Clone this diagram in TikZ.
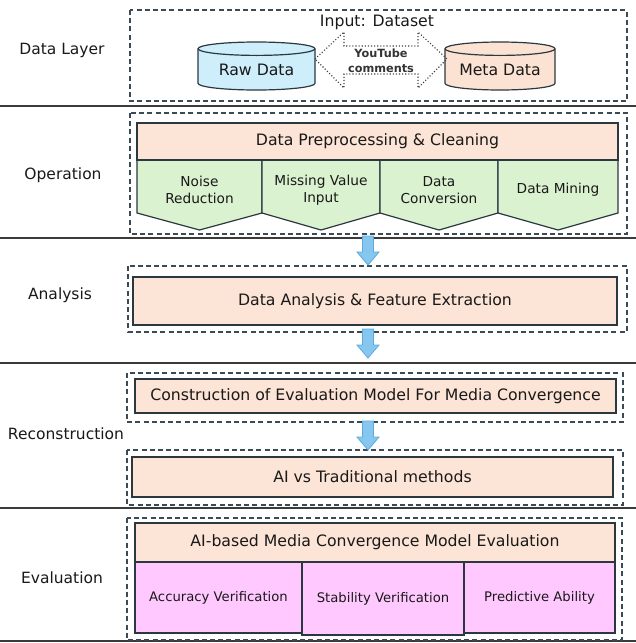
\documentclass[tikz,border=0pt]{standalone}
\usepackage{fontspec}
\setmainfont{DejaVu Sans}
\usetikzlibrary{calc}
\definecolor{peach}{HTML}{FCE4D6}
\definecolor{greenf}{HTML}{DAF2D0}
\definecolor{pinkf}{HTML}{FFC9FF}
\definecolor{rawf}{HTML}{CDEEFA}
\definecolor{metaf}{HTML}{FBE2D3}
\definecolor{dashc}{HTML}{3A4A56}
\definecolor{boxc}{HTML}{2B3840}
\definecolor{arrf}{HTML}{85C7EE}
\definecolor{arrd}{HTML}{5AAAE0}
\definecolor{sepc}{HTML}{3A3A3A}
\newcommand\cylinderdraw[5]{%
  \pgfmathsetmacro\cylrx{(#2-#1)/2}%
  \filldraw[cylline, fill=#5] (#1,#3+6.7) -- (#1,#4-6.7)
    arc[start angle=180,end angle=360,x radius=\cylrx pt,y radius=6.7pt]
    -- (#2,#3+6.7)
    arc[start angle=0,end angle=180,x radius=\cylrx pt,y radius=6.7pt] -- cycle;
  \draw[cylline] (#1,#3+6.7) arc[start angle=180,end angle=360,x radius=\cylrx pt,y radius=6.7pt];
}
\newcommand\blockdown[2]{%
  \draw[barrow] ($(#1)+(-5.5,0)$) -- ($(#1)+(5.5,0)$) -- ($(#2)+(5.5,-13)$)
    -- ($(#2)+(11,-13)$) -- (#2) -- ($(#2)+(-11,-13)$) -- ($(#2)+(-5.5,-13)$) -- cycle;
}
\begin{document}
\begin{tikzpicture}[x=1pt,y=-1pt,
  dashbox/.style={draw=dashc, line width=1.3pt, dash pattern=on 5pt off 3.2pt},
  box/.style={draw=boxc, line width=1.2pt, inner sep=0pt, outer sep=0pt, anchor=north west, align=center},
  seprule/.style={draw=sepc, line width=1.6pt},
  side/.style={font=\fontsize{15.5}{18}\selectfont, text=black!90},
  big/.style={font=\fontsize{15.7}{18}\selectfont, text=black!90},
  mid/.style={font=\fontsize{13.7}{16.5}\selectfont, align=center, text=black!90},
  pinkt/.style={font=\fontsize{13.2}{16}\selectfont, text=black!90},
  small/.style={font=\fontsize{11.3}{15}\selectfont\bfseries, align=center, text=black!80},
  barrow/.style={draw=arrd, fill=arrf, line width=0.8pt, line join=miter},
  cylline/.style={draw=boxc, line width=1.2pt},
  pent/.style={draw=boxc, line width=1.2pt, fill=greenf, line join=miter}
]
\useasboundingbox (0,0) rectangle (636,643);

% separators
\draw[seprule] (0,106) -- (636,106);
\draw[seprule] (0,238) -- (636,238);
\draw[seprule] (0,363) -- (636,363);
\draw[seprule] (0,508) -- (636,508);
\draw[seprule] (0,641) -- (636,641);

% side labels
\node[side] (l1) at (62,50) {Data Layer};
\node[side] (l2) at (63,175) {Operation};
\node[side] (l3) at (60,295) {Analysis};
\node[side] (l4) at (66,434) {Reconstruction};
\node[side] (l5) at (62,578) {Evaluation};

% Data layer
\draw[dashbox] (130,10) rectangle (627,101);
\node[big] (inp) at (377,22) {Input: Dataset};
\cylinderdraw{198}{315}{42}{90}{rawf}
\cylinderdraw{445}{555}{42}{90}{metaf}
\node[big, minimum width=117pt, minimum height=48pt] (raw) at (256.5,70) {Raw Data};
\node[big, minimum width=110pt, minimum height=48pt] (meta) at (500,70) {Meta Data};
\draw[dotted, line width=1.1pt, draw=black!75] (315,59) -- (344,32) -- (344,46) -- (418,46)
  -- (418,32) -- (447,59) -- (418,88) -- (418,74) -- (344,74) -- (344,88) -- cycle;
\node[small] (yt) at (381,60.5) {YouTube\\comments};

% Operation
\draw[dashbox] (130,113) rectangle (627,234);
\foreach \a/\b/\n/\t in {137/262/nr/{Noise\\Reduction}, 262/380/mv/{Missing Value\\Input}, 380/498/dc/{Data\\Conversion}, 498/618/dm/{Data Mining}} {
  \draw[pent] (\a,160) -- (\b,160) -- (\b,213) -- ({(\a+\b)/2},230) -- (\a,213) -- cycle;
  \node[mid] (\n) at ({(\a+\b)/2},190) {\t};
}
\node[box, fill=peach, big, minimum width=481pt, minimum height=37pt] (prep) at (137,123) {Data Preprocessing \& Cleaning};

% Analysis
\draw[dashbox] (128,266) rectangle (627,332);
\node[box, fill=peach, big, minimum width=484pt, minimum height=48pt] (ana) at (133,277) {Data Analysis \& Feature Extraction};

% Reconstruction
\draw[dashbox] (127,373) rectangle (623,422);
\node[box, fill=peach, big, minimum width=481pt, minimum height=34pt] (cons) at (135,379) {Construction of Evaluation Model For Media Convergence};
\draw[dashbox] (127,450) rectangle (623,505);
\node[box, fill=peach, big, minimum width=481pt, minimum height=40pt] (aivs) at (132,457) {AI vs Traditional methods};

% Evaluation
\draw[dashbox] (127,518) rectangle (622,640);
\node[box, fill=pinkf, pinkt, minimum width=167pt, minimum height=71pt] (acc) at (135,562) {Accuracy Verification};
\node[box, fill=pinkf, pinkt, minimum width=162pt, minimum height=73pt] (stab) at (302,562) {Stability Verification};
\node[box, fill=pinkf, pinkt, minimum width=151pt, minimum height=71pt] (pred) at (464,562) {Predictive Ability};
\node[box, fill=peach, big, minimum width=480pt, minimum height=39pt] (evh) at (135,523) {AI-based Media Convergence Model Evaluation};

% blue arrows
\coordinate (a1s) at (368,236); \coordinate (a1e) at (368,265);
\coordinate (a2s) at (368,329); \coordinate (a2e) at (368,358);
\coordinate (a3s) at (368,421); \coordinate (a3e) at (368,450);
\blockdown{a1s}{a1e}
\blockdown{a2s}{a2e}
\blockdown{a3s}{a3e}
\end{tikzpicture}
\end{document}
